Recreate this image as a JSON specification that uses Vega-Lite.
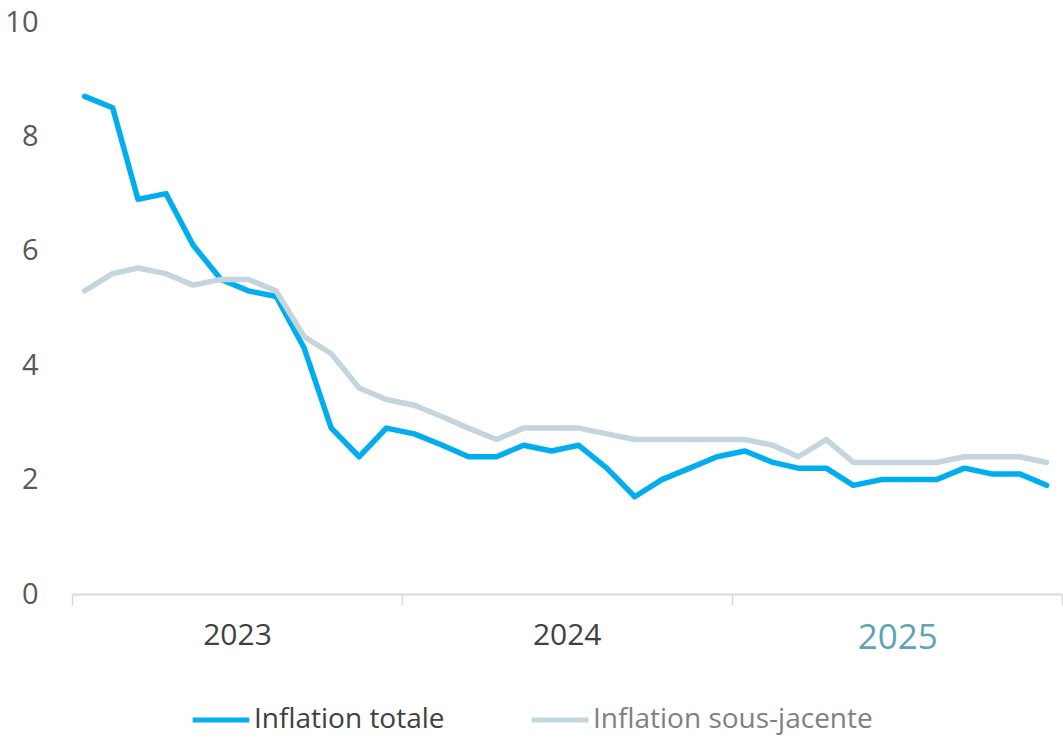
{
  "$schema": "https://vega.github.io/schema/vega-lite/v6.json",
  "autosize": "none",
  "width": 990,
  "height": 572,
  "padding": {"left": 72, "top": 22, "right": 1, "bottom": 148},
  "background": "white",
  "config": {"view": {"stroke": null}, "font": "Open Sans"},
  "data": {
    "values": [
      {"date": "2023-01-15", "series": "Inflation totale", "value": 8.7},
      {"date": "2023-02-15", "series": "Inflation totale", "value": 8.5},
      {"date": "2023-03-15", "series": "Inflation totale", "value": 6.9},
      {"date": "2023-04-15", "series": "Inflation totale", "value": 7.0},
      {"date": "2023-05-15", "series": "Inflation totale", "value": 6.1},
      {"date": "2023-06-15", "series": "Inflation totale", "value": 5.5},
      {"date": "2023-07-15", "series": "Inflation totale", "value": 5.3},
      {"date": "2023-08-15", "series": "Inflation totale", "value": 5.2},
      {"date": "2023-09-15", "series": "Inflation totale", "value": 4.3},
      {"date": "2023-10-15", "series": "Inflation totale", "value": 2.9},
      {"date": "2023-11-15", "series": "Inflation totale", "value": 2.4},
      {"date": "2023-12-15", "series": "Inflation totale", "value": 2.9},
      {"date": "2024-01-15", "series": "Inflation totale", "value": 2.8},
      {"date": "2024-02-15", "series": "Inflation totale", "value": 2.6},
      {"date": "2024-03-15", "series": "Inflation totale", "value": 2.4},
      {"date": "2024-04-15", "series": "Inflation totale", "value": 2.4},
      {"date": "2024-05-15", "series": "Inflation totale", "value": 2.6},
      {"date": "2024-06-15", "series": "Inflation totale", "value": 2.5},
      {"date": "2024-07-15", "series": "Inflation totale", "value": 2.6},
      {"date": "2024-08-15", "series": "Inflation totale", "value": 2.2},
      {"date": "2024-09-15", "series": "Inflation totale", "value": 1.7},
      {"date": "2024-10-15", "series": "Inflation totale", "value": 2.0},
      {"date": "2024-11-15", "series": "Inflation totale", "value": 2.2},
      {"date": "2024-12-15", "series": "Inflation totale", "value": 2.4},
      {"date": "2025-01-15", "series": "Inflation totale", "value": 2.5},
      {"date": "2025-02-15", "series": "Inflation totale", "value": 2.3},
      {"date": "2025-03-15", "series": "Inflation totale", "value": 2.2},
      {"date": "2025-04-15", "series": "Inflation totale", "value": 2.2},
      {"date": "2025-05-15", "series": "Inflation totale", "value": 1.9},
      {"date": "2025-06-15", "series": "Inflation totale", "value": 2.0},
      {"date": "2025-07-15", "series": "Inflation totale", "value": 2.0},
      {"date": "2025-08-15", "series": "Inflation totale", "value": 2.0},
      {"date": "2025-09-15", "series": "Inflation totale", "value": 2.2},
      {"date": "2025-10-15", "series": "Inflation totale", "value": 2.1},
      {"date": "2025-11-15", "series": "Inflation totale", "value": 2.1},
      {"date": "2025-12-15", "series": "Inflation totale", "value": 1.9},
      {"date": "2023-01-15", "series": "Inflation sous-jacente", "value": 5.3},
      {"date": "2023-02-15", "series": "Inflation sous-jacente", "value": 5.6},
      {"date": "2023-03-15", "series": "Inflation sous-jacente", "value": 5.7},
      {"date": "2023-04-15", "series": "Inflation sous-jacente", "value": 5.6},
      {"date": "2023-05-15", "series": "Inflation sous-jacente", "value": 5.4},
      {"date": "2023-06-15", "series": "Inflation sous-jacente", "value": 5.5},
      {"date": "2023-07-15", "series": "Inflation sous-jacente", "value": 5.5},
      {"date": "2023-08-15", "series": "Inflation sous-jacente", "value": 5.3},
      {"date": "2023-09-15", "series": "Inflation sous-jacente", "value": 4.5},
      {"date": "2023-10-15", "series": "Inflation sous-jacente", "value": 4.2},
      {"date": "2023-11-15", "series": "Inflation sous-jacente", "value": 3.6},
      {"date": "2023-12-15", "series": "Inflation sous-jacente", "value": 3.4},
      {"date": "2024-01-15", "series": "Inflation sous-jacente", "value": 3.3},
      {"date": "2024-02-15", "series": "Inflation sous-jacente", "value": 3.1},
      {"date": "2024-03-15", "series": "Inflation sous-jacente", "value": 2.9},
      {"date": "2024-04-15", "series": "Inflation sous-jacente", "value": 2.7},
      {"date": "2024-05-15", "series": "Inflation sous-jacente", "value": 2.9},
      {"date": "2024-06-15", "series": "Inflation sous-jacente", "value": 2.9},
      {"date": "2024-07-15", "series": "Inflation sous-jacente", "value": 2.9},
      {"date": "2024-08-15", "series": "Inflation sous-jacente", "value": 2.8},
      {"date": "2024-09-15", "series": "Inflation sous-jacente", "value": 2.7},
      {"date": "2024-10-15", "series": "Inflation sous-jacente", "value": 2.7},
      {"date": "2024-11-15", "series": "Inflation sous-jacente", "value": 2.7},
      {"date": "2024-12-15", "series": "Inflation sous-jacente", "value": 2.7},
      {"date": "2025-01-15", "series": "Inflation sous-jacente", "value": 2.7},
      {"date": "2025-02-15", "series": "Inflation sous-jacente", "value": 2.6},
      {"date": "2025-03-15", "series": "Inflation sous-jacente", "value": 2.4},
      {"date": "2025-04-15", "series": "Inflation sous-jacente", "value": 2.7},
      {"date": "2025-05-15", "series": "Inflation sous-jacente", "value": 2.3},
      {"date": "2025-06-15", "series": "Inflation sous-jacente", "value": 2.3},
      {"date": "2025-07-15", "series": "Inflation sous-jacente", "value": 2.3},
      {"date": "2025-08-15", "series": "Inflation sous-jacente", "value": 2.3},
      {"date": "2025-09-15", "series": "Inflation sous-jacente", "value": 2.4},
      {"date": "2025-10-15", "series": "Inflation sous-jacente", "value": 2.4},
      {"date": "2025-11-15", "series": "Inflation sous-jacente", "value": 2.4},
      {"date": "2025-12-15", "series": "Inflation sous-jacente", "value": 2.3}
    ]
  },
  "mark": {"type": "line", "strokeWidth": 5.5, "strokeCap": "round", "strokeJoin": "round"},
  "encoding": {
    "x": {
      "field": "date",
      "type": "temporal",
      "scale": {
        "type": "utc",
        "domain": [
          {"year": 2023, "month": 1, "date": 1, "utc": true},
          {"year": 2026, "month": 1, "date": 1, "utc": true}
        ]
      },
      "axis": {
        "title": null,
        "values": [
          {"year": 2023, "month": 1, "date": 1, "utc": true},
          {"year": 2024, "month": 1, "date": 1, "utc": true},
          {"year": 2025, "month": 1, "date": 1, "utc": true},
          {"year": 2026, "month": 1, "date": 1, "utc": true}
        ],
        "labelExpr": "utcyear(datum.value) >= 2026 ? '' : utcFormat(datum.value, '%Y')",
        "labelOffset": 165,
        "labelAlign": "center",
        "labelFlush": false,
        "labelOverlap": false,
        "labelBound": false,
        "labelFont": "Open Sans",
        "labelFontSize": {"condition": {"test": "utcyear(datum.value) == 2025", "value": 35}, "value": 30},
        "labelColor": {"condition": {"test": "utcyear(datum.value) == 2025", "value": "#5fa4b4"}, "value": "#404040"},
        "labelPadding": 15,
        "tickSize": 11,
        "tickColor": "#d9d9d9",
        "tickWidth": 1.5,
        "domainColor": "#d9d9d9",
        "domainWidth": 2,
        "grid": false
      }
    },
    "y": {
      "field": "value",
      "type": "quantitative",
      "scale": {"domain": [0, 10], "nice": false},
      "axis": {
        "title": null,
        "values": [0, 2, 4, 6, 8, 10],
        "domain": false,
        "ticks": false,
        "grid": false,
        "labelFont": "Open Sans",
        "labelFontSize": 29,
        "labelColor": "#595959",
        "labelPadding": 34
      }
    },
    "color": {
      "field": "series",
      "type": "nominal",
      "scale": {
        "domain": ["Inflation totale", "Inflation sous-jacente"],
        "range": ["#00aeef", "#c5d5dd"]
      },
      "legend": {
        "title": null,
        "orient": "none",
        "direction": "horizontal",
        "legendX": 118,
        "legendY": 667,
        "padding": 0,
        "symbolType": "stroke",
        "symbolSize": 3200,
        "symbolStrokeWidth": 5,
        "labelFont": "Open Sans",
        "labelFontSize": 28,
        "labelOffset": 2,
        "columnPadding": 76,
        "labelLimit": 400,
        "encode": {
          "labels": {
            "update": {
              "fill": {"signal": "datum.value === 'Inflation totale' ? '#404040' : '#808080'"}
            }
          }
        }
      }
    }
  }
}
